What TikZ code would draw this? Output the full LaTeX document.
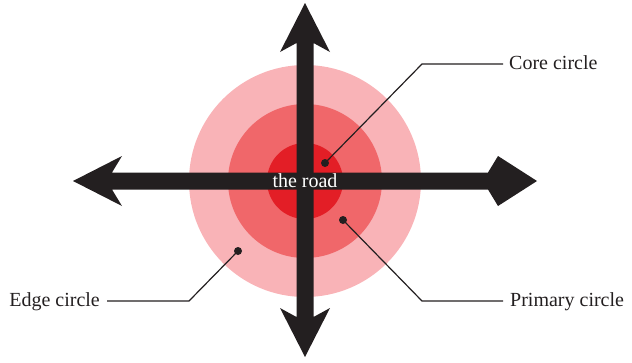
\documentclass[tikz,border=0pt]{standalone}
\usepackage{fontspec}
\setmainfont{Liberation Serif}
\definecolor{edgepink}{HTML}{F9B3B7}
\definecolor{primred}{HTML}{F0676A}
\definecolor{corered}{HTML}{E31E26}
\definecolor{roadblack}{HTML}{231F20}
\begin{document}
\begin{tikzpicture}[x=1pt,y=-1pt,
  road/.style={fill=roadblack},
  dot/.style={circle,fill=roadblack,inner sep=0pt,minimum size=8pt},
  leader/.style={draw=roadblack,line width=1.2pt},
  lbl/.style={font=\fontsize{20}{24}\selectfont,text=roadblack,inner sep=0pt,text height=14pt,text depth=4pt}]
\useasboundingbox (0,0) rectangle (632,362);
% circles
\fill[edgepink] (305,181) circle (116);
\fill[primred] (305,181) circle (77);
\fill[corered] (305,181) circle (38);
% roads
\fill[road] (73,181) -- (122,156) -- (112,172.5) -- (488,172.5) -- (498,156) -- (537,181)
  -- (498,206) -- (488,189.5) -- (112,189.5) -- (122,206) -- cycle;
\fill[road] (305,3) -- (330,52) -- (313.5,43) -- (313.5,317) -- (330,308) -- (305,357)
  -- (280,308) -- (296.5,317) -- (296.5,43) -- (280,52) -- cycle;
\node[font=\fontsize{20}{24}\selectfont,text=white,inner sep=0pt,anchor=base] (road) at (305,187) {the road};
% labels
\node[dot] (coredot) at (325,163) {};
\node[dot] (primdot) at (343,220) {};
\node[dot] (edgedot) at (238,251) {};
\coordinate (corebend) at (422,64);
\coordinate (primbend) at (422,301);
\coordinate (edgebend) at (189,301);
\node[lbl,anchor=west] (corelbl) at (509,64) {Core circle};
\node[lbl,anchor=west] (primlbl) at (510,301) {Primary circle};
\node[lbl,anchor=east] (edgelbl) at (100,301) {Edge circle};
\draw[leader] (coredot.center) -- (corebend) -- ([xshift=-6pt]corelbl.west);
\draw[leader] (primdot.center) -- (primbend) -- ([xshift=-7pt]primlbl.west);
\draw[leader] (edgedot.center) -- (edgebend) -- ([xshift=7pt]edgelbl.east);
\end{tikzpicture}
\end{document}
